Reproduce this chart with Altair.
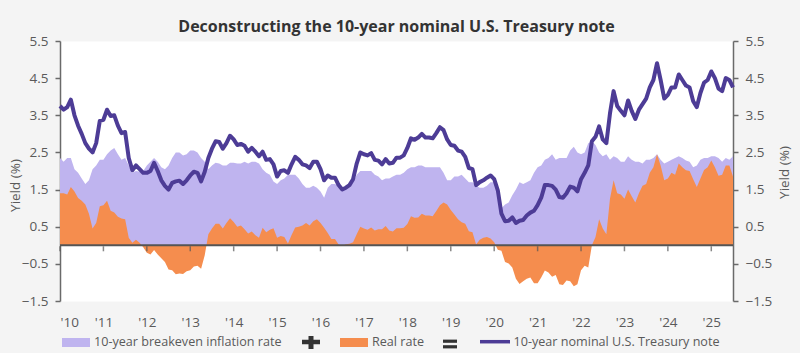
import json
import altair as alt
import pandas as pd

TITLE = "Deconstructing the 10-year nominal U.S. Treasury note"
START_YEAR = 2010

# Monthly readings, Jan 2010 .. Jul 2025 (percent)
nominal = [
    3.75, 3.65, 3.72, 3.92, 3.50, 3.22, 3.00, 2.75, 2.60, 2.50, 2.75, 3.35,
    3.38, 3.65, 3.48, 3.50, 3.22, 3.02, 3.05, 2.35, 2.02, 2.15, 2.05, 1.95,
    1.95, 2.00, 2.22, 2.00, 1.75, 1.60, 1.50, 1.68, 1.72, 1.74, 1.65, 1.75,
    1.88, 1.98, 1.95, 1.72, 1.98, 2.35, 2.60, 2.80, 2.78, 2.60, 2.75, 2.95,
    2.85, 2.70, 2.73, 2.68, 2.52, 2.62, 2.52, 2.40, 2.52, 2.30, 2.32, 2.18,
    1.85, 2.00, 2.02, 1.95, 2.18, 2.38, 2.30, 2.18, 2.15, 2.08, 2.25, 2.25,
    2.05, 1.75, 1.88, 1.82, 1.82, 1.62, 1.50, 1.55, 1.62, 1.78, 2.20, 2.50,
    2.45, 2.42, 2.48, 2.30, 2.28, 2.18, 2.32, 2.20, 2.22, 2.36, 2.36, 2.42,
    2.62, 2.88, 2.84, 2.90, 3.00, 2.90, 2.90, 2.88, 3.02, 3.18, 3.10, 2.85,
    2.70, 2.68, 2.55, 2.52, 2.38, 2.08, 2.05, 1.62, 1.70, 1.75, 1.82, 1.88,
    1.78, 1.48, 0.85, 0.65, 0.66, 0.75, 0.60, 0.66, 0.68, 0.80, 0.88, 0.93,
    1.08, 1.28, 1.62, 1.62, 1.60, 1.50, 1.30, 1.28, 1.40, 1.58, 1.55, 1.45,
    1.78, 1.95, 2.15, 2.80, 2.92, 3.20, 2.85, 2.75, 3.55, 4.15, 3.75, 3.62,
    3.50, 3.90, 3.62, 3.40, 3.65, 3.80, 3.95, 4.25, 4.45, 4.90, 4.45, 3.95,
    4.05, 4.25, 4.25, 4.60, 4.45, 4.30, 4.25, 3.88, 3.72, 4.10, 4.38, 4.45,
    4.68, 4.50, 4.22, 4.15, 4.50, 4.45, 4.25,
]

breakeven = [
    2.35, 2.25, 2.35, 2.35, 2.05, 1.95, 1.80, 1.65, 1.75, 2.05, 2.15, 2.30,
    2.30, 2.45, 2.55, 2.62, 2.45, 2.30, 2.35, 2.15, 1.95, 2.00, 1.98, 2.00,
    2.15, 2.25, 2.35, 2.25, 2.10, 2.05, 2.15, 2.35, 2.50, 2.50, 2.42, 2.45,
    2.55, 2.55, 2.50, 2.35, 2.25, 2.05, 2.15, 2.22, 2.20, 2.15, 2.15, 2.22,
    2.22, 2.20, 2.20, 2.25, 2.20, 2.25, 2.25, 2.20, 2.05, 1.95, 1.90, 1.72,
    1.65, 1.75, 1.80, 1.90, 1.90, 1.90, 1.80, 1.65, 1.55, 1.55, 1.60, 1.55,
    1.45, 1.28, 1.55, 1.65, 1.65, 1.60, 1.52, 1.52, 1.58, 1.70, 1.90, 2.00,
    2.00, 2.00, 2.00, 1.90, 1.85, 1.75, 1.80, 1.80, 1.85, 1.90, 1.90, 1.95,
    2.05, 2.10, 2.10, 2.15, 2.15, 2.10, 2.10, 2.10, 2.10, 2.10, 1.95, 1.75,
    1.75, 1.85, 1.85, 1.90, 1.80, 1.70, 1.70, 1.60, 1.55, 1.55, 1.60, 1.70,
    1.70, 1.60, 1.00, 1.10, 1.15, 1.35, 1.50, 1.70, 1.65, 1.70, 1.75, 1.95,
    2.10, 2.15, 2.30, 2.35, 2.45, 2.30, 2.35, 2.35, 2.35, 2.55, 2.65, 2.50,
    2.45, 2.50, 2.75, 2.80, 2.70, 2.50, 2.40, 2.45, 2.30, 2.40, 2.35, 2.25,
    2.25, 2.40, 2.30, 2.25, 2.25, 2.20, 2.30, 2.30, 2.35, 2.45, 2.30, 2.20,
    2.25, 2.30, 2.35, 2.40, 2.35, 2.28, 2.25, 2.10, 2.15, 2.30, 2.35, 2.35,
    2.40, 2.40, 2.35, 2.25, 2.35, 2.30, 2.40,
]

x_tick_years = list(range(2010, 2026))
x_tick_labels = ["'10", "'11", "'12", "'13", "'14", "'15", "'16", "'17",
                 "'18", "'19", "'20", "'21", "'22", "'23", "'24", "'25"]
y_ticks = [-1.5, -0.5, 0.5, 1.5, 2.5, 3.5, 4.5, 5.5]
legend_labels = ["10-year breakeven inflation rate", "Real rate",
                 "10-year nominal U.S. Treasury note"]

PURPLE_FILL = "#BFB4EF"
ORANGE = "#F58D4E"
LINE = "#4D3C96"
AXIS = "#6a6a6a"
LABEL = "#5a5a5a"
DARK = "#333333"
FONT = "Open Sans"

t = [START_YEAR + i / 12 for i in range(len(nominal))]
real = [round(n - b, 3) for n, b in zip(nominal, breakeven)]  # nominal = breakeven + real
df = pd.DataFrame({"t": t, "nominal": nominal, "breakeven": breakeven, "real": real})
ticks_df = pd.DataFrame({"t": x_tick_years, "v": [0.0] * len(x_tick_years)})
zero_df = pd.DataFrame({"v": [0.0]})
leg = pd.DataFrame({"k": [0]})

xs = alt.Scale(domain=[2010, 2025.5], nice=False, zero=False)
ys = alt.Scale(domain=[-1.5, 5.5], nice=False, zero=False)

label_expr = json.dumps(x_tick_labels) + "[round(datum.value) - 2010]"
x_axis = alt.Axis(values=x_tick_years, labelExpr=label_expr, domain=False, ticks=False,
                  grid=False, labelPadding=14, labelFontSize=13.5, labelColor=LABEL,
                  labelFont=FONT)
x_enc = alt.X("t:Q", scale=xs, axis=x_axis, title=None)


def y_axis(orient, title_x, title_y):
    return alt.Axis(orient=orient, values=y_ticks, format=".1f", grid=False, tickSize=5,
                    tickColor=AXIS, domainColor=AXIS, domainWidth=1.5, tickWidth=1.5,
                    labelColor=LABEL, labelFontSize=13.5, labelFont=FONT, labelPadding=7,
                    title="Yield (%)", titleFont=FONT, titleFontSize=13.5,
                    titleFontWeight="normal", titleColor=LABEL, titleAngle=270,
                    titleX=title_x, titleY=title_y, titleBaseline="middle",
                    titleAlign="center")


base = alt.Chart(df)

be_area = base.mark_area(color=PURPLE_FILL, opacity=1).encode(
    x=x_enc,
    y=alt.Y("breakeven:Q", scale=ys, axis=y_axis("left", -45, 144)),
    y2=alt.datum(0),
)
rr_area = base.mark_area(color=ORANGE, opacity=1).encode(
    x=x_enc,
    y=alt.Y("real:Q", scale=ys, axis=None),
    y2=alt.datum(0),
)
zero_rule = alt.Chart(zero_df).mark_rule(color="#555555", strokeWidth=2).encode(
    y=alt.Y("v:Q", scale=ys, axis=None)
)
ticks = alt.Chart(ticks_df).mark_tick(orient="vertical", size=5, thickness=1.5,
                                      color="#555555", yOffset=3.5).encode(
    x=x_enc, y=alt.Y("v:Q", scale=ys, axis=None)
)
line = base.mark_line(color=LINE, strokeWidth=4, strokeJoin="round").encode(
    x=x_enc, y=alt.Y("nominal:Q", scale=ys, axis=None)
)
right = base.mark_line(opacity=0).encode(
    x=x_enc, y=alt.Y("nominal:Q", scale=ys, axis=y_axis("right", 51, 131))
)


def text_item(x, label):
    return alt.Chart(leg).mark_text(align="left", baseline="middle", font=FONT,
                                    fontSize=12.6, color=LABEL).encode(
        x=alt.value(x), y=alt.value(300.5), text=alt.value(label))


leg_be = alt.Chart(leg).mark_rect(color=PURPLE_FILL).encode(
    x=alt.value(2), x2=alt.value(30), y=alt.value(297), y2=alt.value(306))
leg_rr = alt.Chart(leg).mark_rect(color=ORANGE).encode(
    x=alt.value(280), x2=alt.value(308), y=alt.value(297), y2=alt.value(306))
plus_h = alt.Chart(leg).mark_rule(color=DARK, strokeWidth=4.5).encode(
    x=alt.value(242), x2=alt.value(260), y=alt.value(301))
plus_v = alt.Chart(leg).mark_rule(color=DARK, strokeWidth=5).encode(
    x=alt.value(251), y=alt.value(295), y2=alt.value(308))
eq_top = alt.Chart(leg).mark_rule(color=DARK, strokeWidth=3.2).encode(
    x=alt.value(383), x2=alt.value(397), y=alt.value(300.2))
eq_bot = alt.Chart(leg).mark_rule(color=DARK, strokeWidth=3.2).encode(
    x=alt.value(383), x2=alt.value(397), y=alt.value(305.8))
leg_line = alt.Chart(leg).mark_rule(color=LINE, strokeWidth=3.5).encode(
    x=alt.value(420), x2=alt.value(450), y=alt.value(300.7))

chart = alt.layer(
    be_area, rr_area, zero_rule, ticks, line, right,
    leg_be, text_item(34, legend_labels[0]), plus_h, plus_v,
    leg_rr, text_item(312, legend_labels[1]), eq_top, eq_bot,
    leg_line, text_item(453.5, legend_labels[2]),
).resolve_scale(y="independent").properties(
    width=673,
    height=260,
    title=alt.TitleParams(text=TITLE, font=FONT, fontSize=16, fontWeight="bold",
                          color=DARK, anchor="middle", frame="group", offset=12,
                          baseline="alphabetic", dy=26),
    autosize=alt.AutoSizeParams(type="none"),
    padding={"left": 60, "top": 41, "right": 67, "bottom": 52},
).configure(background="#f4f4f4").configure_view(stroke="transparent", fill="white")

chart.save("out.html", embed_options={"renderer": "svg", "actions": False})
